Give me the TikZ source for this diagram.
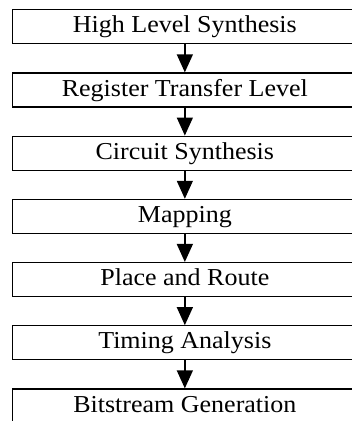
\documentclass[tikz,border=0pt]{standalone}
\usepackage{fontspec}
\setmainfont{Liberation Serif}[FakeStretch=1.07]
\usetikzlibrary{arrows.meta}
\begin{document}
\begin{tikzpicture}[x=1pt,y=-1pt,
  stage/.style={draw=black, line width=1.3pt, rectangle, minimum width=344.3pt,
    minimum height=34pt, inner sep=0pt, text height=17pt, text depth=5pt,
    font=\fontsize{24.3}{28}\selectfont},
  flow/.style={line width=1.3pt, -{Triangle[length=18pt,width=16pt]}}]
\useasboundingbox (0,0) rectangle (352,421);
\clip (0,0) rectangle (352,421);
\node[stage] (n1) at (184.85, 26.8) {High Level Synthesis};
\node[stage] (n2) at (184.85, 90.0) {Register Transfer Level};
\node[stage] (n3) at (184.85, 153.2) {Circuit Synthesis};
\node[stage] (n4) at (184.85, 216.4) {Mapping};
\node[stage] (n5) at (184.85, 279.6) {Place and Route};
\node[stage] (n6) at (184.85, 342.8) {Timing Analysis};
\node[stage] (n7) at (184.85, 406.0) {Bitstream Generation};
\foreach \a/\b in {n1/n2,n2/n3,n3/n4,n4/n5,n5/n6,n6/n7}
  \draw[flow] (\a.south) -- (\b.north);
\end{tikzpicture}
\end{document}
